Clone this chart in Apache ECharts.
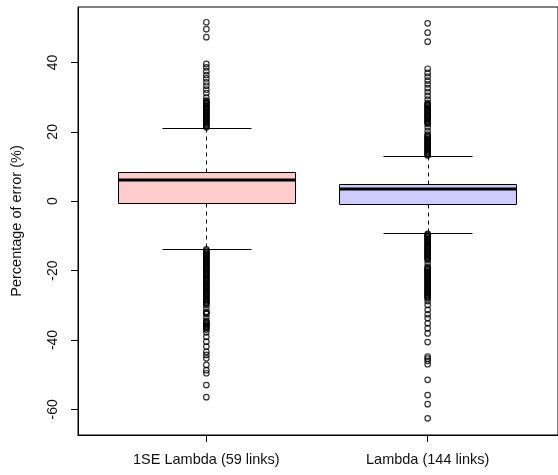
<!DOCTYPE html>
<html>
<head>
<meta charset="utf-8">
<script src="https://cdn.jsdelivr.net/npm/echarts@6/dist/echarts.min.js"></script>
<style>html,body{margin:0;padding:0;background:#fff}#c{width:558px;height:475px}</style>
</head>
<body>
<div id="c"></div>
<script>
var categories = ['1SE Lambda (59 links)', 'Lambda (144 links)'];
// [lower whisker, Q1, median, Q3, upper whisker]
var box1 = [-13.7, -0.5, 6.1, 8.3, 21.2];
var box2 = [-9.2, -0.8, 3.5, 4.9, 13.1];
var boxColors = ['#FFCCCC', '#CCCCFF'];
var yTicks = [-60, -40, -20, 0, 20, 40];

var out1Hi = [21.3,21.6,21.9,22.2,22.5,22.8,23.1,23.4,23.7,24.0,24.3,24.6,24.9,25.2,25.5,25.8,26.1,26.4,26.7,27.0,27.3,27.6,27.9,28.2,28.5,28.8,29.0,29.9,31.2,32.2,33.3,34.3,35.4,36.4,37.5,38.6,39.6,47.3,49.6,51.6];
var out1Lo = [-13.9,-14.2,-14.5,-14.8,-15.1,-15.4,-15.7,-16.0,-16.3,-16.6,-16.9,-17.2,-17.5,-17.8,-18.1,-18.4,-18.7,-19.0,-19.3,-19.6,-19.9,-20.2,-20.5,-20.8,-21.1,-21.4,-21.7,-22.0,-22.3,-22.6,-22.9,-23.2,-23.5,-23.8,-24.1,-24.4,-24.7,-25.0,-25.3,-25.6,-25.9,-26.2,-26.5,-26.8,-27.1,-27.4,-27.7,-28.0,-28.3,-28.6,-28.9,-29.2,-29.5,-29.9,-30.9,-31.9,-32.2,-32.5,-33.5,-34.5,-34.8,-35.1,-35.4,-35.7,-36.0,-36.3,-36.6,-37.0,-37.8,-39.1,-40.5,-41.9,-43.4,-44.3,-45.3,-47.2,-48.7,-49.6,-53.0,-56.5];
var out2Hi = [13.2,13.5,13.8,14.1,14.4,14.7,15.0,15.3,15.6,15.9,16.2,16.5,16.8,17.1,17.4,17.7,18.0,18.3,18.6,18.9,19.2,20.2,21.3,22.3,22.6,22.9,23.2,23.5,23.8,24.1,24.4,24.7,25.0,25.3,25.6,25.9,26.2,26.5,26.8,27.1,27.4,27.7,28.0,28.3,29.3,30.4,31.5,32.6,33.7,34.8,35.9,37.0,38.2,46.0,48.6,51.3];
var out2Lo = [-9.4,-9.7,-10.0,-10.3,-10.6,-10.9,-11.2,-11.5,-11.8,-12.1,-12.4,-12.7,-13.0,-13.3,-13.6,-13.9,-14.2,-14.5,-14.8,-15.1,-15.4,-15.7,-16.0,-16.3,-16.6,-17.0,-18.0,-19.0,-19.3,-19.6,-19.9,-20.2,-20.5,-20.8,-21.1,-21.4,-21.7,-22.0,-22.3,-22.6,-22.9,-23.2,-23.5,-23.8,-24.1,-24.4,-24.7,-25.0,-25.3,-25.6,-25.9,-26.2,-26.5,-26.8,-27.1,-27.4,-27.7,-28.0,-28.8,-29.9,-31.3,-32.6,-33.7,-35.2,-36.6,-38.1,-40.6,-44.8,-45.4,-46.0,-47.0,-51.5,-55.9,-58.5,-62.6];

var boxData = [[1].concat(box1), [2].concat(box2)];
var outliers = [];
[out1Hi, out1Lo].forEach(function (a) { a.forEach(function (v) { outliers.push([1, v]); }); });
[out2Hi, out2Lo].forEach(function (a) { a.forEach(function (v) { outliers.push([2, v]); }); });

function px(v) { return Math.round(v) + 0.5; }
var FONT = 'Liberation Sans, Arial, sans-serif';

var chart = echarts.init(document.getElementById('c'), null, { renderer: 'canvas' });
chart.setOption({
  animation: false,
  backgroundColor: '#fff',
  grid: { left: 78, right: -5, top: 7, bottom: 40, show: true, borderColor: '#000', borderWidth: 1, backgroundColor: '#fff' },
  xAxis: {
    type: 'value', min: 0.42, max: 2.589,
    splitLine: { show: false },
    axisLine: { show: true, onZero: false, lineStyle: { color: '#000', width: 1 } },
    axisTick: { show: true, length: 7, customValues: [1, 2], lineStyle: { color: '#000' } },
    axisLabel: {
      customValues: [1, 2], margin: 17, color: '#111', fontSize: 14.5,
      fontFamily: FONT,
      formatter: function (v) { return categories[Math.round(v) - 1]; }
    }
  },
  yAxis: {
    type: 'value', min: -67.4, max: 56.0,
    name: 'Percentage of error (%)', nameLocation: 'middle', nameGap: 54,
    nameTextStyle: { color: '#111', fontSize: 14.5, fontFamily: FONT },
    splitLine: { show: false },
    axisLine: { show: true, onZero: false, lineStyle: { color: '#000', width: 1 } },
    axisTick: { show: true, length: 7, customValues: yTicks, lineStyle: { color: '#000' } },
    axisLabel: {
      customValues: yTicks, rotate: 90, margin: 18, color: '#111', fontSize: 14,
      fontFamily: FONT
    }
  },
  series: [
    {
      type: 'custom',
      data: boxData,
      encode: { x: 0, y: [1, 2, 3, 4, 5] },
      renderItem: function (params, api) {
        var x = api.value(0);
        var lo = api.value(1), q1 = api.value(2), med = api.value(3), q3 = api.value(4), hi = api.value(5);
        var cx = px(api.coord([x, 0])[0]);
        var xl = px(api.coord([x - 0.4, 0])[0]);
        var xr = px(api.coord([x + 0.4, 0])[0]);
        var sl = px(api.coord([x - 0.2, 0])[0]);
        var sr = px(api.coord([x + 0.2, 0])[0]);
        var yLo = px(api.coord([x, lo])[1]);
        var yQ1 = px(api.coord([x, q1])[1]);
        var yMed = Math.round(api.coord([x, med])[1]);
        var yQ3 = px(api.coord([x, q3])[1]);
        var yHi = px(api.coord([x, hi])[1]);
        var dashStyle = { stroke: '#000', lineWidth: 1, lineDash: [4, 4], fill: null };
        var solid = { stroke: '#000', lineWidth: 1, fill: null };
        return {
          type: 'group',
          children: [
            { type: 'line', shape: { x1: cx, y1: yQ3, x2: cx, y2: yHi }, style: dashStyle },
            { type: 'line', shape: { x1: cx, y1: yQ1, x2: cx, y2: yLo }, style: dashStyle },
            { type: 'line', shape: { x1: sl, y1: yHi, x2: sr, y2: yHi }, style: solid },
            { type: 'line', shape: { x1: sl, y1: yLo, x2: sr, y2: yLo }, style: solid },
            { type: 'rect', shape: { x: xl, y: yQ3, width: xr - xl, height: yQ1 - yQ3 },
              style: { fill: boxColors[params.dataIndex], stroke: '#000', lineWidth: 1 } },
            { type: 'line', shape: { x1: xl, y1: yMed, x2: xr, y2: yMed }, style: { stroke: '#000', lineWidth: 3 } }
          ]
        };
      },
      z: 2
    },
    {
      type: 'scatter',
      data: outliers,
      symbol: 'circle',
      symbolSize: 5.5,
      itemStyle: { color: 'rgba(0,0,0,0)', borderColor: '#000', borderWidth: 1.2 },
      z: 3
    }
  ]
});
</script>
</body>
</html>
